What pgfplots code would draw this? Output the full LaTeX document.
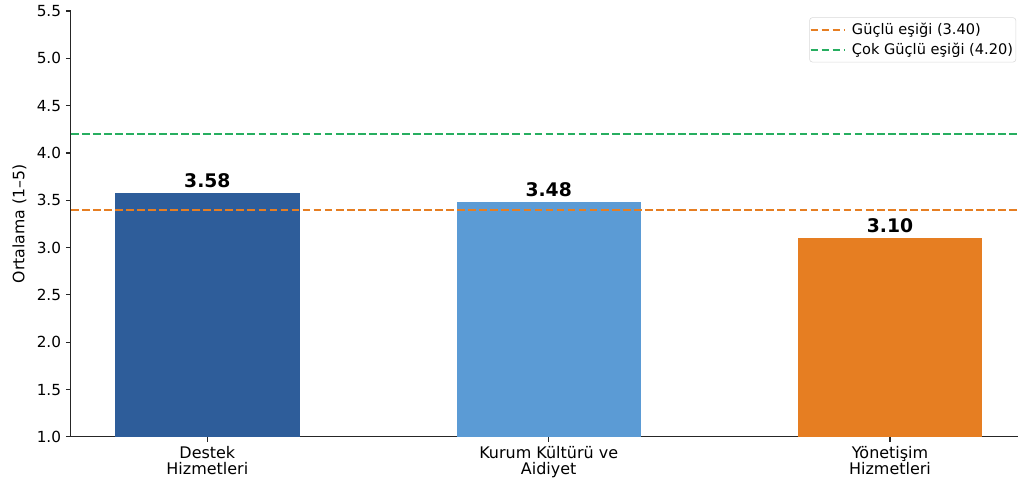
\documentclass[border=0pt]{standalone}
\usepackage{pgfplots}
\pgfplotsset{compat=1.18}
\usepackage{pgfplotstable}
\usepackage{fontspec}
\setmainfont{DejaVu Sans}
\usetikzlibrary{calc}

\definecolor{barA}{HTML}{2E5D9A}
\definecolor{barB}{HTML}{5B9BD5}
\definecolor{barC}{HTML}{E67E22}
\definecolor{lineOr}{HTML}{E67E22}
\definecolor{lineGr}{HTML}{27AE60}

% x position, mean score
\pgfplotstableread{
x val
0 3.58
}\destek
\pgfplotstableread{
x val
1 3.48
}\kurum
\pgfplotstableread{
x val
2 3.10
}\yonetisim

\begin{document}
\begin{tikzpicture}
\begin{axis}[name=ax,
    scale only axis,
    width=682pt, height=306.7pt,
    xmin=-0.4, xmax=2.375,
    ymin=1, ymax=5.5,
    ytick={1,1.5,...,5.5},
    xtick={0,1,2},
    xticklabels={{Destek\\Hizmetleri},{Kurum Kültürü ve\\Aidiyet},{Yönetişim\\Hizmetleri}},
    xticklabel style={align=center, font=\fontsize{11.5}{11}\selectfont},
    yticklabel style={font=\fontsize{11}{12}\selectfont,
        /pgf/number format/.cd, fixed, fixed zerofill, precision=1},
    /pgf/number format/assume math mode=true,
    axis lines=left,
    axis line style={-, line width=0.8pt, black!85},
    tick style={line width=0.8pt, black!85},
    tick align=outside,
    major tick length=3.5pt,
    ylabel={Ortalama (1–5)},
    every axis y label/.style={at={(axis description cs:0,0.5)}, xshift=-37pt,
        rotate=90, anchor=center, font=\fontsize{11.3}{13}\selectfont},
    ybar, bar width=0.54, bar shift=0pt,
    nodes near coords={\pgfmathprintnumber[fixed,zerofill,precision=2]{\pgfplotspointmeta}},
    nodes near coords style={font=\fontsize{13.5}{15}\selectfont\bfseries, anchor=south},
    legend style={at={(0.998,0.985)}, anchor=north east, draw=black!15,
        rounded corners=2pt, font=\fontsize{10.5}{12}\selectfont,
        row sep=0.5pt, inner xsep=0pt, inner ysep=2pt},
    legend cell align=left,
    legend image code/.code={\draw[#1] (0pt,0pt) -- (24pt,0pt); \path (27pt,0pt);},
]
\addplot[fill=barA, draw=none, forget plot] table[x=x, y=val] {\destek};
\addplot[fill=barB, draw=none, forget plot] table[x=x, y=val] {\kurum};
\addplot[fill=barC, draw=none, forget plot] table[x=x, y=val] {\yonetisim};
\addplot[sharp plot, no markers, nodes near coords={}, lineOr, line width=1.5pt,
    dash pattern=on 5.55pt off 2.4pt] coordinates {(-0.4,3.40) (2.375,3.40)};
\addlegendentry{Güçlü eşiği (3.40)}
\addplot[sharp plot, no markers, nodes near coords={}, lineGr, line width=1.5pt,
    dash pattern=on 5.55pt off 2.4pt] coordinates {(-0.4,4.20) (2.375,4.20)};
\addlegendentry{Çok Güçlü eşiği (4.20)}
\end{axis}
\pgfresetboundingbox
\path ($(ax.south west)+(-51pt,-35.3pt)$) rectangle ($(ax.north east)+(0pt,7.9pt)$);
\end{tikzpicture}
\end{document}
